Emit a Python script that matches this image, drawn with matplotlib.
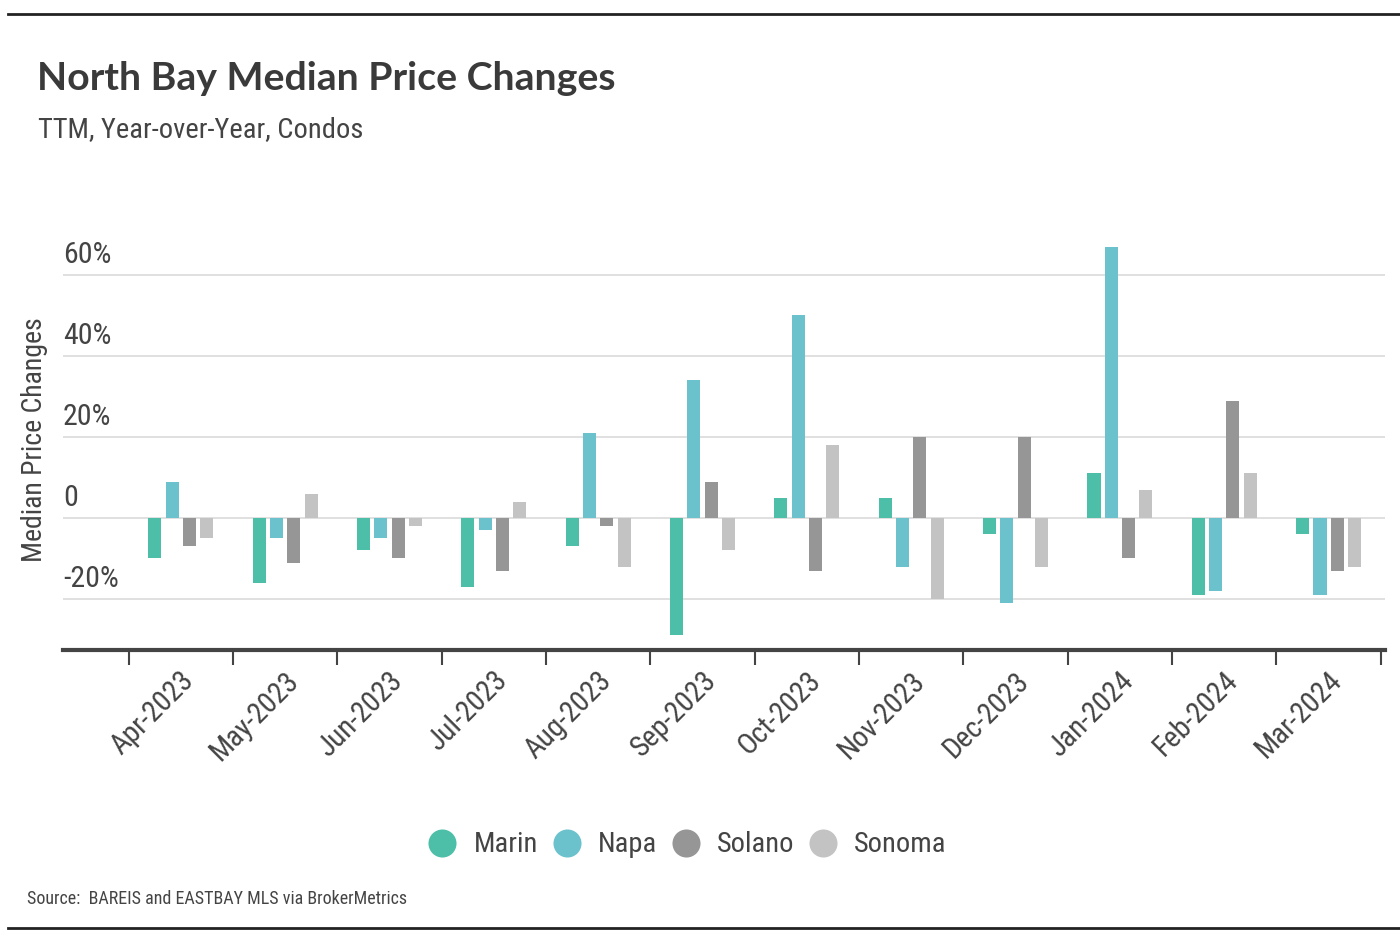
import matplotlib
matplotlib.use("Agg")
import matplotlib.pyplot as plt
from matplotlib.lines import Line2D
from matplotlib import font_manager as fm
import matplotlib.transforms as mtransforms
import numpy as np

months = ["Apr-2023", "May-2023", "Jun-2023", "Jul-2023", "Aug-2023", "Sep-2023",
          "Oct-2023", "Nov-2023", "Dec-2023", "Jan-2024", "Feb-2024", "Mar-2024"]
marin = [-10.0, -16.0, -8.0, -17.0, -7.0, -29.0, 5.0, 5.0, -4.0, 11.0, -19.0, -4.0]
napa = [9.0, -5.0, -5.0, -3.0, 21.0, 34.0, 50.0, -12.0, -21.0, 67.0, -18.0, -19.0]
solano = [-7.0, -11.0, -10.0, -13.0, -2.0, 9.0, -13.0, 20.0, 20.0, -10.0, 29.0, -13.0]
sonoma = [-5.0, 6.0, -2.0, 4.0, -12.0, -8.0, 18.0, -20.0, -12.0, 7.0, 11.0, -12.0]
series_names = ["Marin", "Napa", "Solano", "Sonoma"]
y_ticks = [-20, 0, 20, 40, 60]
y_tick_labels = ["-20%", "0", "20%", "40%", "60%"]

colors = ["#4dbfa9", "#6bc2cd", "#969696", "#c3c3c3"]
TXT = "#444444"


def find_narrow():
    bad = ("bold", "italic", "oblique", "light", "thin", "medium", "black",
           "semibold", "extra", "heavy", "demi")
    found = []
    for f in fm.fontManager.ttflist:
        n = f.name.lower()
        fn = f.fname.lower().split("/")[-1]
        narrow = ("narrow" in n or "condensed" in n or "narrow" in fn or "condensed" in fn
                  or f.stretch in ("condensed", "semi-condensed", "extra-condensed"))
        if not narrow or f.style != "normal":
            continue
        if any(b in fn for b in bad):
            continue
        score = 0
        if "liberation" in fn:
            score = 5
        elif "roboto" in fn:
            score = 4
        elif "opensans" in fn or "open" in n:
            score = 3
        elif "noto" in fn:
            score = 2
        elif "dejavu" in fn:
            score = 1
        found.append((score, f.fname))
    if found:
        found.sort(reverse=True)
        return found[0][1]
    return None


narrow_file = find_narrow()


def NP(size):
    if narrow_file:
        return fm.FontProperties(fname=narrow_file, size=size)
    return fm.FontProperties(family="DejaVu Sans", size=size * 0.85)


BOLD = ["Lato", "DejaVu Sans"]

fig = plt.figure(figsize=(14, 9.52), dpi=100)
W, H = 1400, 952
ax = fig.add_axes([63 / W, 1 - 650 / H, (1385 - 63) / W, (650 - 234.5) / H])

x = np.arange(len(months))
pitch = 0.166
bw = 0.125
for k, (vals, c) in enumerate(zip([marin, napa, solano, sonoma], colors)):
    ax.bar(x + (k - 1.5) * pitch, vals, width=bw, color=c, zorder=3)

ax.set_xlim(-1.13, 11.54)
ax.set_ylim(-32.6, 70)

for t in y_ticks:
    ax.axhline(t, color="#dddddd", lw=1.3, zorder=1)
ax.set_yticks([])
for t, lab in zip(y_ticks, y_tick_labels):
    ax.annotate(lab, xy=(0, t), xycoords=("axes fraction", "data"),
                xytext=(0, 6), textcoords="offset pixels", ha="left", va="bottom",
                fontproperties=NP(21.5), color=TXT)

for s in ["top", "right", "left"]:
    ax.spines[s].set_visible(False)
ax.spines["bottom"].set_linewidth(3)
ax.spines["bottom"].set_color("#444444")

ax.set_xticks(np.arange(len(months) + 1) - 0.5)
ax.set_xticklabels([])
ax.tick_params(axis="x", which="major", length=11, width=1.5, color="#444444")
ax.set_xticks(x, minor=True)
ax.set_xticklabels(months, minor=True, rotation=45, ha="right", va="center",
                   rotation_mode="anchor", color=TXT)
ax.tick_params(axis="x", which="minor", length=0, pad=19)
offset = mtransforms.ScaledTranslation(9 / 100, 0, fig.dpi_scale_trans)
for lab in ax.get_xticklabels(minor=True):
    lab.set_fontproperties(NP(21))
    lab.set_transform(lab.get_transform() + offset)

fig.text(35 / W, 1 - 440 / H, "Median Price Changes", rotation=90, ha="center", va="center",
         fontproperties=NP(20), color=TXT)

fig.text(37 / W, 1 - 78 / H, "North Bay Median Price Changes", ha="left", va="center",
         fontsize=28.3, fontweight="bold", color="#3a3a3a", family=BOLD)
fig.text(38 / W, 1 - 130 / H, "TTM, Year-over-Year, Condos", ha="left", va="center",
         fontproperties=NP(20.5), color=TXT)
fig.text(27 / W, 1 - 899 / H, "Source:  BAREIS and EASTBAY MLS via BrokerMetrics", ha="left",
         va="center", fontproperties=NP(13), color=TXT)

handles = [Line2D([], [], marker="o", linestyle="none", markersize=20.2, color=c,
                  markeredgewidth=0) for c in colors]
leg = fig.legend(handles, series_names, loc="center", bbox_to_anchor=(687.5 / W, 1 - 845 / H),
                 ncol=4, frameon=False, handlelength=1.0, handletextpad=0.6,
                 columnspacing=0.5, borderpad=0, borderaxespad=0, prop=NP(20.5))
for t in leg.get_texts():
    t.set_color(TXT)

fig.add_artist(Line2D([8 / W, 1], [1 - 14 / H] * 2, color="#222222", lw=2))
fig.add_artist(Line2D([8 / W, 1], [1 - 928 / H] * 2, color="#222222", lw=2))

fig.savefig("out.png", dpi=100, facecolor="white")
